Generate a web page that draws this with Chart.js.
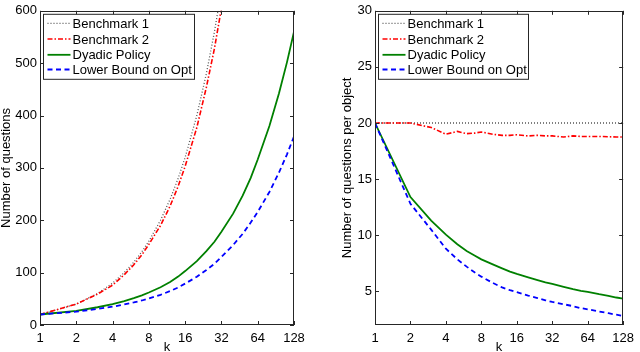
<!DOCTYPE html>
<html><head><meta charset="utf-8">
<script src="https://cdn.jsdelivr.net/npm/chart.js@4/dist/chart.umd.min.js"></script>
<style>
html,body{margin:0;padding:0;background:#fff;}
#wrap{position:relative;width:640px;height:352px;overflow:hidden;}
canvas{position:absolute;top:0;}
</style>
</head><body>
<div id="wrap">
<canvas id="c1" width="320" height="352" style="left:0px"></canvas>
<canvas id="c2" width="320" height="352" style="left:320px"></canvas>
</div>
<script>
// ---------- data ----------
const kValues = [1,2,3,4,5,6,7,8,10,12,14,16,20,24,28,32,40,48,56,64,80,96,112,128];
const xTickLabels = [1,2,4,8,16,32,64,128];
const seriesNames = ['Benchmark 1','Benchmark 2','Dyadic Policy','Lower Bound on Opt'];
const leftYTicks = [0,100,200,300,400,500,600];
const rightYTicks = [5,10,15,20,25,30];

// left panel: total number of questions
const totalBench1 = [20,40,60,80,100,120,140,160,200,240,280,320,400,480,560,640,null,null,null,null,null,null,null,null];
const totalBench2 = [20,40,59,76,96,115,134,154,190,227,265,303,377,454,528,605,null,null,null,null,null,null,null,null];
const totalDyadic = [20,27,33.9,40,45.8,51.4,56.7,62,72,82,92.4,103,122,141,159,178,212.6,247,281,316,380,442,502,560];
const totalLower  = [20,25.5,30.6,35,39.2,43.1,46.8,50.5,57.7,64.7,71.7,79,92.1,105,117,130,152.6,174,195.6,216,254,291,326,360];

// right panel: number of questions per object
const perBench1 = [20,20,20,20,20,20,20,20,20,20,20,20,20,20,20,20,20,20,20,20,20,20,20,20];
const perBench2 = [20,20,19.6,19.0,19.25,19.05,19.1,19.2,19.0,18.9,18.9,18.95,18.85,18.9,18.85,18.85,18.75,18.85,18.8,18.8,18.8,18.78,18.75,18.75];
const perDyadic = [20,13.4,11.3,10.05,9.2,8.6,8.2,7.85,7.4,7.05,6.75,6.55,6.25,6.0,5.8,5.66,5.4,5.2,5.05,4.96,4.75,4.6,4.45,4.35];
const perLower  = [20,12.8,10.5,8.8,7.85,7.2,6.7,6.31,5.75,5.35,5.1,4.93,4.62,4.4,4.2,4.06,3.85,3.68,3.5,3.40,3.2,3.05,2.92,2.8];

// ---------- styles ----------
const styles = [
  {color:'#555555', dash:[1,2], width:1.3},
  {color:'#ff0000', dash:[5,2,1.5,2], width:1.6},
  {color:'#008000', dash:[], width:1.8},
  {color:'#0000ff', dash:[5,3.5], width:1.8}
];
const FONT = "'Liberation Sans', Arial, Helvetica, sans-serif";
Chart.defaults.font.family = FONT;
Chart.defaults.font.size = 13;
Chart.defaults.color = '#000';

function toPts(arr){ return kValues.map((k,i)=>({x:k,y:arr[i]})); }

const framePlugin = {
  id:'frame',
  afterDatasetsDraw(chart){
    const {ctx, chartArea:a, scales:{x,y}} = chart;
    ctx.save();
    ctx.strokeStyle = '#262626';
    ctx.lineWidth = 1;
    ctx.beginPath();
    x.ticks.forEach(t=>{
      const px = Math.round(x.getPixelForValue(t.value))+0.5;
      ctx.moveTo(px,a.bottom); ctx.lineTo(px,a.bottom-4);
      ctx.moveTo(px,a.top); ctx.lineTo(px,a.top+4);
    });
    y.ticks.forEach(t=>{
      const py = Math.round(y.getPixelForValue(t.value))+0.5;
      ctx.moveTo(a.left,py); ctx.lineTo(a.left+4,py);
      ctx.moveTo(a.right,py); ctx.lineTo(a.right-4,py);
    });
    ctx.stroke();
    ctx.strokeRect(Math.round(a.left)+0.5, Math.round(a.top)+0.5, Math.round(a.width)-1, Math.round(a.height)-1);
    ctx.restore();
  },
  afterDraw(chart, args, opts){
    const {ctx, chartArea:a} = chart;
    const bx = a.left+3.5, by = a.top+3.5, bw = opts.boxWidth, bh = 65;
    ctx.save();
    ctx.fillStyle = '#fff';
    ctx.fillRect(bx,by,bw,bh);
    ctx.strokeStyle = '#262626'; ctx.lineWidth = 1;
    ctx.strokeRect(bx,by,bw,bh);
    const baselines = [13.5,29.2,45,59.7];
    chart.data.datasets.forEach((ds,i)=>{
      const yb = by + baselines[i];
      const yl = yb - 4.5;
      ctx.beginPath();
      ctx.setLineDash(ds.borderDash||[]);
      ctx.strokeStyle = ds.borderColor; ctx.lineWidth = ds.borderWidth;
      ctx.moveTo(bx+4, yl); ctx.lineTo(bx+27, yl); ctx.stroke();
      ctx.setLineDash([]);
      ctx.fillStyle = '#000';
      ctx.font = '13px ' + FONT;
      ctx.textBaseline = 'alphabetic';
      ctx.textAlign = 'left';
      ctx.fillText(ds.label, bx+29, yb);
    });
    ctx.restore();
  }
};

function makeChart(id, series, yMin, yMax, yTicks, yTitle, yWidth, rightPad, titlePadTop, boxWidth){
  const datasets = series.map((arr,i)=>({
    label: seriesNames[i],
    data: toPts(arr),
    borderColor: styles[i].color,
    borderDash: styles[i].dash,
    borderWidth: styles[i].width,
    pointRadius: 0,
    fill: false,
    tension: 0,
    spanGaps: false,
    order: 4-i
  }));
  return new Chart(document.getElementById(id), {
    type:'line',
    data:{datasets},
    plugins:[framePlugin],
    options:{
      responsive:false, animation:false, devicePixelRatio:1,
      layout:{padding:{left:0,right:rightPad,top:5,bottom:0}},
      plugins:{legend:{display:false}, tooltip:{enabled:false}, frame:{boxWidth}},
      scales:{
        x:{
          type:'logarithmic', min:1, max:128,
          afterBuildTicks(s){ s.ticks = xTickLabels.map(v=>({value:v})); },
          afterFit(s){ s.height = 27; },
          ticks:{callback:(v)=>String(v), padding:6, maxRotation:0, autoSkip:false, color:'#000', font:{size:13}},
          grid:{display:false, drawTicks:false}, border:{display:false},
          title:{display:true, text:'k', color:'#000', font:{size:13, lineHeight:1.2}, padding:{top:0,bottom:-3}}
        },
        y:{
          type:'linear', min:yMin, max:yMax,
          afterBuildTicks(s){ s.ticks = yTicks.map(v=>({value:v})); },
          afterFit(s){ s.width = yWidth; },
          ticks:{padding:3, color:'#000', font:{size:13}},
          grid:{display:false, drawTicks:false}, border:{display:false},
          title:{display:true, text:yTitle, color:'#000', font:{size:13, lineHeight:1.2}, padding:{top:titlePadTop,bottom:0}}
        }
      }
    }
  });
}

makeChart('c1', [totalBench1,totalBench2,totalDyadic,totalLower], 0, 600, leftYTicks,
  'Number of questions', 40, 26, -1, 151);
makeChart('c2', [perBench1,perBench2,perDyadic,perLower], 2, 30, rightYTicks,
  'Number of questions per object', 55, 11, 20, 150);
</script>
</body></html>
